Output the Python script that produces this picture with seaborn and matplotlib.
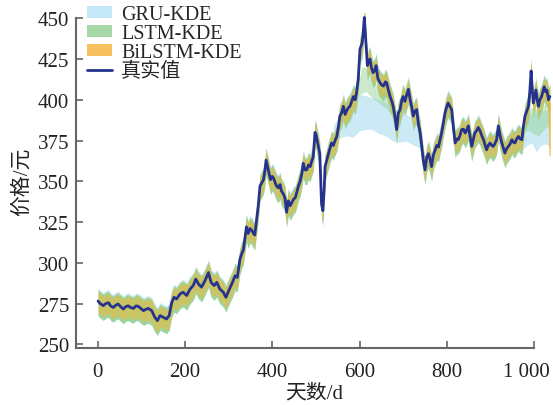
import matplotlib
matplotlib.use("Agg")
import matplotlib.pyplot as plt
import matplotlib.transforms as mtransforms
import numpy as np
import pandas as pd
import seaborn as sns
from matplotlib.patches import Patch
from matplotlib.lines import Line2D

# ---------------- data ----------------
days = [1, 6, 13, 19, 25, 30, 36, 42, 47, 53, 59, 64, 70, 76, 82, 88, 93, 99, 105, 111,
        116, 124, 131, 137, 143, 150, 158, 164, 170, 175, 181, 189, 196, 204, 212, 219, 225, 231, 238, 246,
        254, 260, 267, 273, 280, 288, 294, 302, 309, 315, 320, 326, 330, 334, 338, 341, 345, 349, 353, 357,
        360, 364, 368, 372, 376, 380, 383, 386, 391, 396, 400, 403, 407, 410, 414, 418, 421, 425, 429, 433,
        437, 441, 445, 449, 453, 457, 460, 464, 468, 471, 475, 479, 483, 487, 490, 494, 498, 501, 503, 506,
        509, 513, 516, 519, 521, 525, 529, 532, 536, 540, 544, 548, 552, 555, 559, 563, 567, 570, 574, 578,
        582, 586, 590, 593, 597, 601, 606, 608, 611, 613, 615, 618, 621, 624, 627, 631, 635, 638, 642, 647,
        651, 655, 659, 662, 666, 670, 674, 677, 681, 685, 689, 693, 697, 700, 704, 708, 712, 716, 720, 723,
        727, 731, 735, 739, 743, 746, 750, 754, 758, 762, 765, 769, 773, 777, 781, 784, 788, 792, 796, 800,
        803, 807, 811, 815, 819, 823, 826, 830, 834, 838, 842, 845, 849, 853, 857, 861, 864, 868, 872, 876,
        880, 884, 888, 891, 895, 899, 903, 906, 910, 914, 918, 922, 926, 930, 933, 937, 941, 945, 949, 952,
        956, 960, 964, 968, 972, 975, 979, 983, 987, 990, 993, 996, 998, 1001, 1004, 1007, 1010, 1013, 1017, 1020,
        1023, 1026, 1029, 1033, 1036]
actual = [276.5, 275, 273.7, 275, 275.5, 273.5, 272.6, 274, 274.7, 273, 271.6, 273, 273.6, 272.5, 272, 273.5, 273.3, 272, 270.6, 271.5,
          272, 270.6, 266.6, 264.5, 267.6, 266.6, 265.5, 267.6, 275.7, 278.8, 277.8, 280.9, 281.9, 279.9, 283.9, 286, 290, 287, 285, 289,
          294, 288, 286, 288, 283.9, 281.9, 278.8, 283.9, 288, 292, 291, 302, 305.5, 308, 316, 322, 318, 321, 320, 318,
          317, 326, 335, 347, 349, 351, 356, 363, 357, 351, 353, 352, 349, 347, 346, 348, 344, 342.5, 340, 331,
          338, 335, 337, 339, 340, 344, 347, 350, 355, 361, 357, 357, 360, 359, 362, 365, 380, 378, 375, 371,
          367, 336, 332, 345, 359, 363, 367, 370, 373.5, 372, 375, 377.5, 384, 390, 392, 396, 391, 393, 395, 396,
          399, 402, 400, 404, 412.5, 431, 435, 440, 450.5, 442, 433, 421, 424, 425, 420, 416.7, 418, 421, 413, 410.5,
          409, 408.4, 411, 410.5, 406, 402, 399, 396, 390, 381.7, 392, 394, 400, 402, 399, 403, 406.4, 400, 395, 390,
          393, 394, 385, 379.6, 370, 363, 357, 365, 367, 363, 359, 366, 369, 372, 371, 375, 379.6, 386, 392, 396,
          398, 396, 394, 383, 373.5, 376, 375.5, 378, 381.7, 382, 379.6, 381, 384, 378, 371.4, 376, 379.6, 381, 383, 381,
          378, 375.5, 372, 369.3, 372, 373.5, 372, 371.4, 373, 375.5, 384, 378, 373.5, 370, 367.3, 370, 371.4, 373, 375.5, 374,
          373.5, 376, 377.5, 376, 375.5, 383, 390, 393, 396, 405, 417.7, 405, 398, 402, 406, 400, 396, 400, 402, 405,
          408, 405, 406, 400, 402]

# KDE interval half-widths around the true value (lower, upper)
gru_spread = (-9, 8)
lstm_spread = (-9, 7)
bilstm_spread = (-7, 6)

# regions where the GRU-KDE interval falls clearly below the true value
gru_days_a = [540, 555, 570, 585, 600, 609, 620, 632, 645, 655, 665, 677, 690, 708, 725, 739, 745]
gru_lo_a = [374, 376.5, 378, 377, 381, 381.5, 382, 381.5, 379, 378.5, 377, 374.5, 374, 374.5, 372, 370.5, 366]
gru_hi_a = [384, 391, 395, 399, 403, 403, 402, 401, 400, 399, 397, 395, 393, 391, 388, 385, 375]
gru_days_b = [970, 983, 995, 1005, 1015, 1025, 1033, 1036]
gru_lo_b = [368, 372, 373.5, 368, 372, 373, 372, 370]
gru_hi_b = [380, 390, 392, 392, 393, 394, 393, 390]

# regions where the LSTM-KDE interval falls below the true value
lstm_days_a = [597, 605, 615, 630, 645, 660, 675, 690, 700]
lstm_lo_a = [402, 404, 405, 401, 398, 395, 390, 386, 391]
lstm_hi_a = [410, 420, 420, 412, 407, 404, 397, 392, 397]
lstm_days_b = [980, 990, 1000, 1010, 1020, 1030, 1036]
lstm_lo_b = [381, 381, 379, 378, 381, 384, 381]
lstm_hi_b = [388, 395, 395, 393, 396, 398, 396]

# BiLSTM-KDE tail drop at the last days
bilstm_days_t = [1031, 1034, 1037]
bilstm_lo_t = [396, 366, 366]
bilstm_hi_t = [404, 400, 398]

xticks = [0, 200, 400, 600, 800, 1000]
xtick_labels = ["0", "200", "400", "600", "800", "1 000"]
yticks = [250, 275, 300, 325, 350, 375, 400, 425, 450]

labels = ["GRU-KDE", "LSTM-KDE", "BiLSTM-KDE", "真实值"]

# ---------------- style ----------------
sns.set_theme(style="ticks")
plt.rcParams["font.family"] = ["Liberation Serif", "Noto Sans CJK SC", "DejaVu Sans"]
plt.rcParams["axes.unicode_minus"] = False

c_gru = "#c4e7f5"
c_lstm = "#8fd08c"
c_bilstm = "#f2b632"
c_line = "#26338e"
c_axis = "#666666"

df = pd.DataFrame({"day": days, "value": actual})
d = np.asarray(days, dtype=float)
a = np.asarray(actual, dtype=float)

fig = plt.figure(figsize=(5.53, 4.06), dpi=100)
ax = fig.add_axes([0.1374, 0.1404, 0.8601, 0.8241])

# GRU
ax.fill_between(d, a + gru_spread[0], a + gru_spread[1], color=c_gru, alpha=0.85, lw=0)
ax.fill_between(gru_days_a, gru_lo_a, gru_hi_a, color=c_gru, alpha=0.85, lw=0)
ax.fill_between(gru_days_b, gru_lo_b, gru_hi_b, color=c_gru, alpha=0.85, lw=0)
# LSTM
ax.fill_between(d, a + lstm_spread[0], a + lstm_spread[1], color=c_lstm, alpha=0.8, lw=0)
ax.fill_between(lstm_days_a, lstm_lo_a, lstm_hi_a, color=c_lstm, alpha=0.45, lw=0)
ax.fill_between(lstm_days_b, lstm_lo_b, lstm_hi_b, color=c_lstm, alpha=0.45, lw=0)
# BiLSTM
ax.fill_between(d, a + bilstm_spread[0], a + bilstm_spread[1], color=c_bilstm, alpha=0.55, lw=0)
ax.fill_between(bilstm_days_t, bilstm_lo_t, bilstm_hi_t, color=c_bilstm, alpha=0.8, lw=0)
# true value
sns.lineplot(data=df, x="day", y="value", ax=ax, color=c_line, lw=2.0, legend=False)

ax.set_xlim(-49.5, 1040)
ax.set_ylim(247.7, 453)
ax.set_xticks(xticks)
ax.set_xticklabels(xtick_labels)
ax.set_yticks(yticks)

for s in ["top", "right"]:
    ax.spines[s].set_visible(False)
for s in ["left", "bottom"]:
    ax.spines[s].set_color(c_axis)
    ax.spines[s].set_linewidth(1.5)
ax.spines["left"].set_bounds(247.7, 450)
ax.spines["bottom"].set_bounds(-49.5, 1000)

ax.tick_params(axis="both", direction="in", length=5, width=1.2, color=c_axis,
               labelsize=15, labelcolor="#222222")
ax.tick_params(axis="x", pad=10)
ax.tick_params(axis="y", pad=5)

# pull the wide "1 000" label slightly left so it stays inside the figure
last = ax.get_xticklabels()[-1]
last.set_transform(last.get_transform() +
                   mtransforms.ScaledTranslation(-8 / 100, 0, fig.dpi_scale_trans))

ax.set_xlabel("天数/d", fontsize=15, labelpad=2, color="#222222")
ax.set_ylabel("价格/元", fontsize=15, labelpad=4, color="#222222")

handles = [Patch(facecolor="#c5e8f6", edgecolor="none"),
           Patch(facecolor="#a6d7a4", edgecolor="none"),
           Patch(facecolor="#f8c160", edgecolor="none"),
           Line2D([0], [0], color=c_line, lw=2)]
ax.legend(handles, labels, loc="upper left", bbox_to_anchor=(0.023, 1.025),
          frameon=False, fontsize=14.5, labelspacing=0.0, handlelength=1.25,
          handleheight=0.55, handletextpad=0.45, borderpad=0, borderaxespad=0)

fig.savefig("out.png", dpi=100)
